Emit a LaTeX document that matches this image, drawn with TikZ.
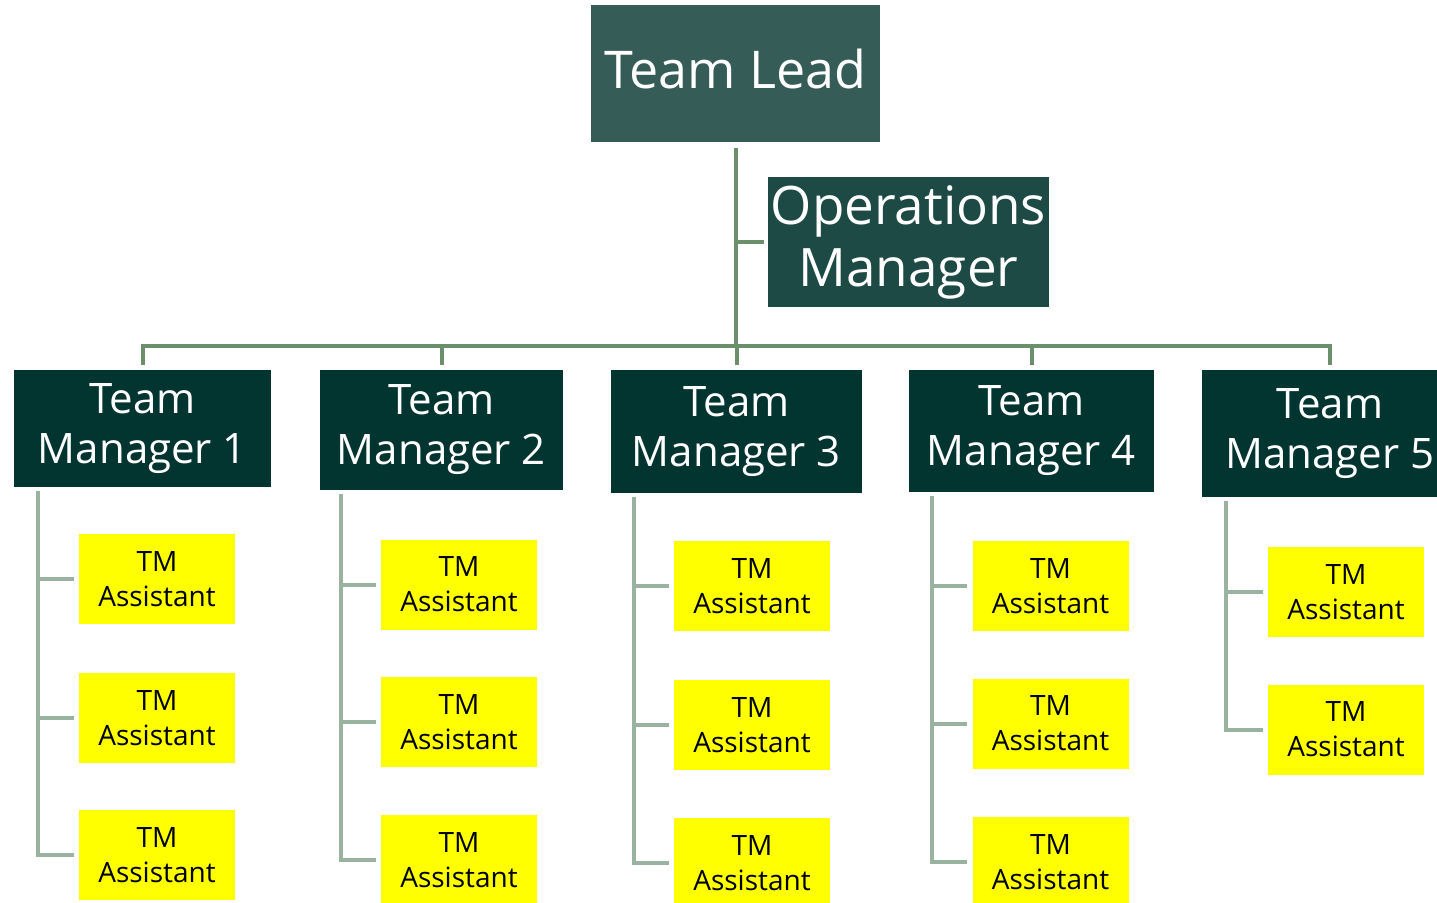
\documentclass[tikz,border=0pt]{standalone}
\usepackage{fontspec}
\setmainfont{Open Sans}
\usepackage{tikz}
\definecolor{leadcol}{RGB}{53,92,87}
\definecolor{opscol}{RGB}{29,74,68}
\definecolor{tmcol}{RGB}{3,53,48}
\definecolor{linkcol}{RGB}{107,142,107}
\definecolor{subcol}{RGB}{154,178,160}
\definecolor{asstcol}{RGB}{255,255,0}

\begin{document}
\begin{tikzpicture}[x=1pt,y=-1pt,
		box/.style={rectangle,inner sep=0pt,align=center},
		lead/.style={box,fill=leadcol,text=white,font=\fontsize{52}{58}\selectfont},
		ops/.style={box,fill=opscol,text=white,font=\fontsize{53}{62}\selectfont},
		tm/.style={box,fill=tmcol,text=white,font=\fontsize{42}{50}\selectfont},
		asst/.style={box,fill=asstcol,text=black,minimum width=156pt,minimum height=90pt,font=\fontsize{28}{35}\selectfont},
		link/.style={draw=linkcol,line width=4pt},
		sub/.style={draw=subcol,line width=4pt}]
				\useasboundingbox (0,0) rectangle (1437,902);
				% top of the chart
				\node[lead,minimum width=289pt,minimum height=137pt] (tl) at (735.5,73.5) {};
				\node[text=white,font=\fontsize{52}{58}\selectfont] (tltext) at (735.5,69) {Team Lead};
				\node[ops,minimum width=281pt,minimum height=130pt] (ops) at (908.5,242) {Operations\\Manager};
				\coordinate (bus) at (736,346);
				% team managers
				\node[tm,minimum width=257pt,minimum height=117pt] (tm1) at (142.5,428.5) {Team\\Manager 1};
				\node[tm,minimum width=243pt,minimum height=120pt] (tm2) at (441.5,430) {Team\\Manager 2};
				\node[tm,minimum width=251pt,minimum height=123pt] (tm3) at (736.5,431.5) {Team\\Manager 3};
				\node[tm,minimum width=245pt,minimum height=122pt] (tm4) at (1031.5,431) {Team\\Manager 4};
				\node[tm,minimum width=256pt,minimum height=127pt] (tm5) at (1330,433.5) {Team\\Manager 5};
				% assistants
				\node[asst] (a11) at (157,579) {TM\\Assistant};
				\node[asst] (a12) at (157,718) {TM\\Assistant};
				\node[asst] (a13) at (157,855) {TM\\Assistant};
				\node[asst] (a21) at (459,584.5) {TM\\Assistant};
				\node[asst] (a22) at (459,722) {TM\\Assistant};
				\node[asst] (a23) at (459,860) {TM\\Assistant};
				\node[asst] (a31) at (752,586) {TM\\Assistant};
				\node[asst] (a32) at (752,725) {TM\\Assistant};
				\node[asst] (a33) at (752,863) {TM\\Assistant};
				\node[asst] (a41) at (1050.5,586) {TM\\Assistant};
				\node[asst] (a42) at (1050.5,723.5) {TM\\Assistant};
				\node[asst] (a43) at (1050.5,862) {TM\\Assistant};
				\node[asst] (a51) at (1346,592) {TM\\Assistant};
				\node[asst] (a52) at (1346,729.5) {TM\\Assistant};
				% spines under the managers
				\coordinate (sp1) at ([xshift=24pt]tm1.south west);
				\coordinate (sp2) at ([xshift=21pt]tm2.south west);
				\coordinate (sp3) at ([xshift=23pt]tm3.south west);
				\coordinate (sp4) at ([xshift=23pt]tm4.south west);
				\coordinate (sp5) at ([xshift=24pt]tm5.south west);
				
				\draw[link,shorten <=6pt] (tl.south) -- (tl.south |- bus);
				\draw[link,shorten >=4pt] (tl.south |- ops.west) -- (ops.west);
				\draw[link,shorten <=5pt,shorten >=5pt] (tm1.north) |- (bus) -| (tm5.north);
				\draw[link,shorten >=5pt] (tm2.north |- bus) -- (tm2.north);
				\draw[link,shorten >=5pt] (tm3.north |- bus) -- (tm3.north);
				\draw[link,shorten >=5pt] (tm4.north |- bus) -- (tm4.north);
				
				\draw[sub,shorten <=4pt,shorten >=5pt] (sp1) |- (a13.west);
				\draw[sub,shorten >=5pt] (sp1 |- a11.west) -- (a11.west);
				\draw[sub,shorten >=5pt] (sp1 |- a12.west) -- (a12.west);
				\draw[sub,shorten <=4pt,shorten >=5pt] (sp2) |- (a23.west);
				\draw[sub,shorten >=5pt] (sp2 |- a21.west) -- (a21.west);
				\draw[sub,shorten >=5pt] (sp2 |- a22.west) -- (a22.west);
				\draw[sub,shorten <=4pt,shorten >=5pt] (sp3) |- (a33.west);
				\draw[sub,shorten >=5pt] (sp3 |- a31.west) -- (a31.west);
				\draw[sub,shorten >=5pt] (sp3 |- a32.west) -- (a32.west);
				\draw[sub,shorten <=4pt,shorten >=5pt] (sp4) |- (a43.west);
				\draw[sub,shorten >=5pt] (sp4 |- a41.west) -- (a41.west);
				\draw[sub,shorten >=5pt] (sp4 |- a42.west) -- (a42.west);
				\draw[sub,shorten <=4pt,shorten >=5pt] (sp5) |- (a52.west);
				\draw[sub,shorten >=5pt] (sp5 |- a51.west) -- (a51.west);
				
			\end{tikzpicture}
\end{document}
